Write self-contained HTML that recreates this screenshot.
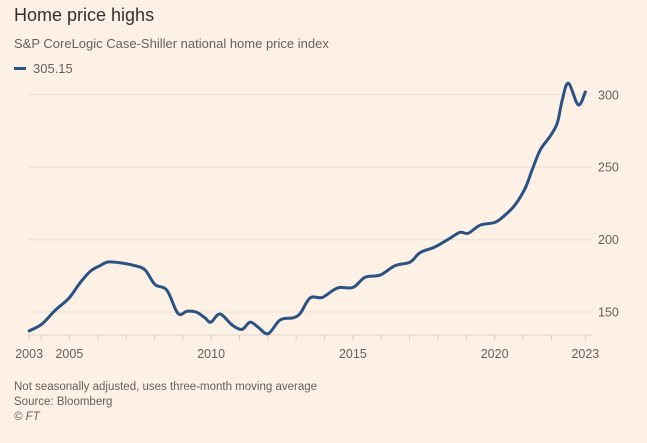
<!DOCTYPE html>
<html><head><meta charset="utf-8">
<style>
html,body{margin:0;padding:0;background:#fdf1e6;}
body{width:647px;height:443px;position:relative;overflow:hidden;font-family:"Liberation Sans",sans-serif;}
.t{position:absolute;white-space:nowrap;}
</style></head>
<body>
<div class="t" style="left:14px;top:5px;font-size:18px;color:#33302e;">Home price highs</div>
<div class="t" style="left:14px;top:36px;font-size:13px;color:#66605c;">S&amp;P CoreLogic Case-Shiller national home price index</div>
<div style="position:absolute;left:14px;top:67px;width:12px;height:3px;background:#2a5283;"></div>
<div class="t" style="left:33px;top:61px;font-size:13px;color:#66605c;">305.15</div>
<svg id="chart" width="647" height="443" style="position:absolute;left:0;top:0;"></svg>
<div class="t" style="left:14px;top:381px;font-size:11.5px;color:#66605c;">Not seasonally adjusted, uses three-month moving average</div>
<div class="t" style="left:14px;top:396px;font-size:11.5px;color:#66605c;">Source: Bloomberg</div>
<div class="t" style="left:14px;top:411px;font-size:11.5px;color:#66605c;font-style:italic;">© FT</div>
<script>
const years=[2003.58,2004.03,2004.49,2004.99,2005.37,2005.73,2006.08,2006.36,2006.78,2007.31,2007.67,2008.02,2008.44,2008.83,2009.15,2009.47,2009.78,2009.99,2010.31,2010.74,2011.09,2011.37,2011.65,2012.01,2012.43,2012.89,2013.14,2013.49,2013.91,2014.30,2014.55,2015.01,2015.43,2015.96,2016.49,2017.02,2017.37,2017.90,2018.43,2018.78,2019.07,2019.49,2020.02,2020.37,2020.72,2021.08,2021.32,2021.61,2021.96,2022.21,2022.38,2022.60,2022.95,2023.20];
const values=[136.9,141.7,151,159.7,170,178,182,184.5,184,182,179,169,165,149,150.5,150,146,143,148.6,141,138,143,139.6,135,144.5,146,149,159.7,160,165,167,167,174,175.5,182,184.5,191,195,201,205,204.4,210,212,217,224,235.6,248,262,271.5,280.5,296,308,293,302];
const yTicks=[150,200,250,300];
const xTickLabels=["2003","2005","2010","2015","2020","2023"];
const xTickYears=[2003.58,2005,2010,2015,2020,2023.2];
const minorYears=[2004,2005,2006,2007,2008,2009,2010,2011,2012,2013,2014,2015,2016,2017,2018,2019,2020,2021,2022];
const NS="http://www.w3.org/2000/svg";
const svg=document.getElementById('chart');
const X=y=>69.4+(y-2005)*28.35;
const Y=v=>312-(v-150)*1.448;
const L=28,R=592,B=335;
function mk(t,a){const e=document.createElementNS(NS,t);for(const k in a)e.setAttribute(k,a[k]);svg.appendChild(e);return e;}
yTicks.forEach(v=>{
  const g=mk('line',{x1:L,x2:R,y1:Y(v),y2:Y(v),stroke:'#ecdfd3','stroke-width':1});
  
  
  const t=mk('text',{x:598,y:Y(v)+4.5,'font-size':12.5,fill:'#66605c','font-family':'Liberation Sans, sans-serif'});
  t.textContent=v;
  
  
});
const ax=mk('line',{x1:L,x2:R,y1:B,y2:B,stroke:'#e3d6c9','stroke-width':1});


minorYears.concat(xTickYears).forEach(y=>{
  const t=mk('line',{x1:X(y),x2:X(y),y1:B,y2:B+5,stroke:'#d8cbbe','stroke-width':1});
  
  
});
xTickLabels.forEach((s,i)=>{
  const t=mk('text',{x:X(xTickYears[i]),y:358,'font-size':12.5,fill:'#66605c','text-anchor':'middle','font-family':'Liberation Sans, sans-serif'});
  t.textContent=s;
  
  
});
const pts=years.map((y,i)=>[X(y),Y(values[i])]);
let d='M'+pts[0][0]+','+pts[0][1];
for(let i=0;i<pts.length-1;i++){
  const p0=pts[i-1]||pts[i],p1=pts[i],p2=pts[i+1],p3=pts[i+2]||p2;
  const c1=[p1[0]+(p2[0]-p0[0])/6,p1[1]+(p2[1]-p0[1])/6];
  const c2=[p2[0]-(p3[0]-p1[0])/6,p2[1]-(p3[1]-p1[1])/6];
  d+=' C'+c1+' '+c2+' '+p2;
}
const line=mk('path',{d:d,fill:'none',stroke:'#2a5283','stroke-width':3,'stroke-linejoin':'round','stroke-linecap':'round'});


</script>
</body></html>
